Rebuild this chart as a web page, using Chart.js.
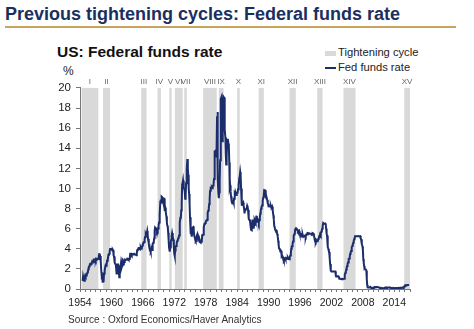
<!DOCTYPE html>
<html>
<head>
<meta charset="utf-8">
<script src="https://cdn.jsdelivr.net/npm/chart.js@4"></script>
<style>
    body { margin: 0; width: 474px; height: 329px; background: #fff; font-family: "Liberation Sans", Arial, sans-serif; position: relative; overflow: hidden; }
    #title { position: absolute; left: 5px; top: 4px; font-size: 18px; font-weight: bold; color: #1b2f5f; white-space: nowrap; }
    #rule { position: absolute; left: 5px; top: 26px; width: 451px; height: 2px; background: #c9a45c; }
    #sub { position: absolute; left: 57px; top: 43px; font-size: 15.5px; font-weight: bold; color: #111; white-space: nowrap; }
    #pct { position: absolute; left: 63px; top: 64px; font-size: 12px; color: #222; }
    .leg { position: absolute; left: 325px; font-size: 11.2px; color: #222; white-space: nowrap; }
    .leg span { display: inline-block; width: 11px; vertical-align: middle; margin-right: 2px; }
    #source { position: absolute; left: 68px; top: 314px; font-size: 10px; color: #333; white-space: nowrap; }
    #chart { position: absolute; left: 30px; top: 76px; }
</style>
</head>
<body>
<div id="title">Previous tightening cycles: Federal funds rate</div>
<div id="rule"></div>
<div id="sub">US: Federal funds rate</div>
<div class="leg" style="top:46px"><span style="height:5px;background:#d9d9d9"></span>Tightening cycle</div>
<div class="leg" style="top:61px"><span style="height:2px;background:#1b2d6b"></span>Fed funds rate</div>
<div id="pct">%</div>
<canvas id="chart" width="400" height="240"></canvas>
<div id="source">Source : Oxford Economics/Haver Analytics</div>

<script>
/* ---------- DATA ---------- */
// monthly effective fed funds rate, from Jul 1954
let startYear = 1954.5;
let fedRate = [
    0.80, 1.22, 1.06, 0.85, 0.83, 1.28,
    1.39, 1.29, 1.35, 1.43, 1.43, 1.64, 1.68, 1.96, 2.18, 2.24, 2.35, 2.48,
    2.45, 2.50, 2.50, 2.62, 2.75, 2.71, 2.75, 2.73, 2.95, 2.96, 2.88, 2.94,
    2.84, 3.00, 2.96, 3.00, 3.00, 3.00, 2.99, 3.24, 3.47, 3.50, 3.28, 2.98,
    2.72, 1.67, 1.20, 1.26, 0.63, 0.93, 0.68, 1.53, 1.76, 1.80, 2.27, 2.42,
    2.48, 2.43, 2.80, 2.96, 2.90, 3.39, 3.47, 3.50, 3.76, 3.98, 4.00, 3.99,
    3.99, 3.97, 3.84, 3.92, 3.85, 3.32, 3.23, 2.98, 2.60, 2.47, 2.44, 1.98,
    1.45, 2.54, 2.02, 1.49, 1.98, 1.73, 1.17, 2.00, 1.88, 2.26, 2.61, 2.33,
    2.15, 2.37, 2.85, 2.78, 2.36, 2.68, 2.71, 2.93, 2.90, 2.90, 2.94, 2.93,
    2.92, 3.00, 2.98, 2.90, 3.00, 2.99, 3.02, 3.49, 3.48, 3.50, 3.48, 3.38,
    3.48, 3.48, 3.43, 3.47, 3.50, 3.50, 3.42, 3.50, 3.45, 3.36, 3.52, 3.85,
    3.90, 3.98, 4.04, 4.09, 4.10, 4.04, 4.09, 4.12, 4.01, 4.08, 4.10, 4.32,
    4.42, 4.60, 4.65, 4.67, 4.90, 5.17, 5.30, 5.53, 5.40, 5.53, 5.76, 5.40,
    4.94, 5.00, 4.53, 4.05, 3.94, 3.98, 3.79, 3.90, 3.99, 3.88, 4.13, 4.51,
    4.61, 4.71, 5.05, 5.76, 6.11, 6.07, 6.02, 6.03, 5.78, 5.91, 5.82, 6.02,
    6.30, 6.61, 6.79, 7.41, 8.67, 8.90, 8.61, 9.19, 9.15, 9.00, 8.85, 8.97,
    8.98, 8.98, 7.76, 8.10, 7.95, 7.61, 7.21, 6.61, 6.29, 6.20, 5.60, 4.90,
    4.14, 3.72, 3.71, 4.16, 4.63, 4.91, 5.31, 5.56, 5.55, 5.20, 4.91, 4.14,
    3.50, 3.29, 3.83, 4.17, 4.27, 4.46, 4.55, 4.80, 4.87, 5.04, 5.06, 5.33,
    5.94, 6.58, 7.09, 7.12, 7.84, 8.49, 10.40, 10.50, 10.78, 10.01, 10.03, 9.95,
    9.65, 8.97, 9.35, 10.51, 11.31, 11.93, 12.92, 12.01, 11.34, 10.06, 9.45, 8.53,
    7.13, 6.24, 5.54, 5.49, 5.22, 5.55, 6.10, 6.14, 6.24, 5.82, 5.22, 5.20,
    4.87, 4.77, 4.84, 4.82, 5.29, 5.48, 5.31, 5.29, 5.25, 5.03, 4.95, 4.65,
    4.61, 4.68, 4.69, 4.73, 5.35, 5.39, 5.42, 5.90, 6.14, 6.47, 6.51, 6.56,
    6.70, 6.78, 6.79, 6.89, 7.36, 7.60, 7.81, 8.04, 8.45, 8.96, 9.76, 10.03,
    10.07, 10.06, 10.09, 10.01, 10.24, 10.29, 10.47, 10.94, 11.43, 13.77, 13.18, 13.78,
    13.82, 14.13, 17.19, 17.61, 10.98, 9.47, 9.03, 9.61, 10.87, 12.81, 15.85, 18.90,
    19.08, 15.93, 14.70, 15.72, 18.52, 19.10, 19.04, 17.82, 15.87, 15.08, 13.31, 12.37,
    13.22, 14.78, 14.68, 14.94, 14.45, 14.15, 12.59, 10.12, 10.31, 9.71, 9.20, 8.95,
    8.68, 8.51, 8.77, 8.80, 8.63, 8.98, 9.37, 9.56, 9.45, 9.48, 9.34, 9.47,
    9.56, 9.59, 9.91, 10.29, 10.32, 11.06, 11.23, 11.64, 11.30, 9.99, 9.43, 8.38,
    8.35, 8.50, 8.58, 8.27, 7.97, 7.53, 7.88, 7.90, 7.92, 7.99, 8.05, 8.27,
    8.14, 7.86, 7.48, 6.99, 6.85, 6.92, 6.56, 6.17, 5.89, 5.85, 6.04, 6.91,
    6.43, 6.10, 6.13, 6.37, 6.85, 6.73, 6.58, 6.73, 7.22, 7.29, 6.69, 6.77,
    6.83, 6.58, 6.58, 6.87, 7.09, 7.51, 7.75, 8.01, 8.19, 8.30, 8.35, 8.76,
    9.12, 9.36, 9.85, 9.84, 9.81, 9.53, 9.24, 8.99, 9.02, 8.84, 8.55, 8.45,
    8.23, 8.24, 8.28, 8.26, 8.18, 8.29, 8.15, 8.13, 8.20, 8.11, 7.81, 7.31,
    6.91, 6.25, 6.12, 5.91, 5.78, 5.90, 5.82, 5.66, 5.45, 5.21, 4.81, 4.43,
    4.03, 4.06, 3.98, 3.73, 3.82, 3.76, 3.25, 3.30, 3.22, 3.10, 3.09, 2.92,
    3.02, 3.03, 3.07, 2.96, 3.00, 3.04, 3.06, 3.03, 3.09, 2.99, 3.02, 2.96,
    3.05, 3.25, 3.34, 3.56, 4.01, 4.25, 4.26, 4.47, 4.73, 4.76, 5.29, 5.45,
    5.53, 5.92, 5.98, 6.05, 6.01, 6.00, 5.85, 5.74, 5.80, 5.76, 5.80, 5.60,
    5.56, 5.22, 5.31, 5.22, 5.24, 5.27, 5.40, 5.22, 5.30, 5.24, 5.31, 5.29,
    5.25, 5.19, 5.39, 5.51, 5.50, 5.56, 5.52, 5.54, 5.54, 5.50, 5.52, 5.50,
    5.56, 5.51, 5.49, 5.45, 5.49, 5.56, 5.54, 5.55, 5.51, 5.07, 4.83, 4.68,
    4.63, 4.76, 4.81, 4.74, 4.74, 4.76, 4.99, 5.07, 5.22, 5.20, 5.42, 5.30,
    5.45, 5.73, 5.85, 6.02, 6.27, 6.53, 6.54, 6.50, 6.52, 6.51, 6.51, 6.40,
    5.98, 5.49, 5.31, 4.80, 4.21, 3.97, 3.77, 3.65, 3.07, 2.49, 2.09, 1.82,
    1.73, 1.74, 1.73, 1.75, 1.75, 1.75, 1.73, 1.74, 1.75, 1.75, 1.34, 1.24,
    1.24, 1.26, 1.25, 1.26, 1.26, 1.22, 1.01, 1.03, 1.01, 1.01, 1.00, 0.98,
    1.00, 1.01, 1.00, 1.00, 1.00, 1.03, 1.26, 1.43, 1.61, 1.76, 1.93, 2.16,
    2.28, 2.50, 2.63, 2.79, 3.00, 3.04, 3.26, 3.50, 3.62, 3.78, 4.00, 4.16,
    4.29, 4.49, 4.59, 4.79, 4.94, 4.99, 5.24, 5.25, 5.25, 5.25, 5.25, 5.24,
    5.25, 5.26, 5.26, 5.25, 5.25, 5.25, 5.26, 5.02, 4.94, 4.76, 4.49, 4.24,
    3.94, 2.98, 2.61, 2.28, 1.98, 2.00, 2.01, 2.00, 1.81, 0.97, 0.39, 0.16,
    0.15, 0.22, 0.18, 0.15, 0.18, 0.21, 0.16, 0.16, 0.15, 0.12, 0.12, 0.12,
    0.11, 0.13, 0.16, 0.20, 0.20, 0.18, 0.18, 0.19, 0.19, 0.19, 0.19, 0.18,
    0.17, 0.16, 0.14, 0.10, 0.09, 0.09, 0.07, 0.10, 0.08, 0.07, 0.08, 0.07,
    0.08, 0.10, 0.13, 0.14, 0.16, 0.16, 0.16, 0.13, 0.14, 0.16, 0.16, 0.16,
    0.14, 0.15, 0.14, 0.15, 0.11, 0.09, 0.09, 0.08, 0.08, 0.09, 0.08, 0.09,
    0.07, 0.07, 0.08, 0.09, 0.09, 0.10, 0.09, 0.09, 0.09, 0.09, 0.09, 0.12,
    0.11, 0.11, 0.11, 0.12, 0.12, 0.13, 0.13, 0.14, 0.14, 0.12, 0.12, 0.24,
    0.34, 0.38, 0.36, 0.37, 0.37, 0.38, 0.39, 0.40, 0.40, 0.40, 0.41
];

// tightening cycles (decimal years)
let cycleLabels = ["I", "II", "III", "IV", "V", "VI", "VII", "VIII", "IX", "X", "XI", "XII", "XIII", "XIV", "XV"];
let cycleStart = [1954.3, 1958.4, 1965.7, 1968.8, 1971.05, 1972.1, 1973.9, 1977.5, 1980.5, 1984.0, 1988.1, 1994.0, 1999.3, 2004.3, 2015.9];
let cycleEnd   = [1957.5, 1959.75, 1966.7, 1969.45, 1971.5, 1973.6, 1974.4, 1980.1, 1981.4, 1984.5, 1989.1, 1995.2, 2000.3, 2006.6, 2017.0];

let yearLabels = [1954, 1960, 1966, 1972, 1978, 1984, 1990, 1996, 2002, 2008, 2014];

/* ---------- SHADED CYCLES PLUGIN ---------- */
const cyclesPlugin = {
    id: "cycles",
    beforeDatasetsDraw(chart) {
        let ctx = chart.ctx;
        let xs = chart.scales.x;
        let area = chart.chartArea;
        ctx.save();
        ctx.fillStyle = "#d9d9d9";
        cycleStart.forEach((s, i) => {
            let x0 = xs.getPixelForValue(s);
            let x1 = xs.getPixelForValue(cycleEnd[i]);
            ctx.fillRect(x0, area.top, x1 - x0, area.bottom - area.top);
        });
        ctx.fillStyle = "#666";
        ctx.font = "8px 'Liberation Sans', Arial, sans-serif";
        ctx.textAlign = "center";
        ctx.textBaseline = "bottom";
        cycleLabels.forEach((lab, i) => {
            let xm = xs.getPixelForValue((cycleStart[i] + cycleEnd[i]) / 2);
            ctx.fillText(lab, xm, area.top - 2);
        });
        ctx.restore();
    }
};

/* ---------- CHART ---------- */
let points = fedRate.map((v, i) => ({ x: startYear + i / 12, y: v }));

new Chart(document.getElementById("chart"), {
    type: "line",
    data: {
        datasets: [{
            data: points,
            borderColor: "#1b2d6b",
            borderWidth: 2,
            pointRadius: 0,
            tension: 0,
            fill: false
        }]
    },
    options: {
        responsive: false,
        animation: false,
        layout: { padding: { top: 11, right: 20, left: 0, bottom: 0 } },
        plugins: { legend: { display: false }, tooltip: { enabled: false } },
        scales: {
            x: {
                type: "linear",
                min: 1954,
                max: 2017,
                afterFit: (s) => { s.height = 27; },
                border: { color: "#777", width: 1 },
                grid: { drawOnChartArea: false, tickLength: 3, color: "#777" },
                ticks: {
                    stepSize: 1,
                    autoSkip: false,
                    maxRotation: 0,
                    padding: 5,
                    color: "#222",
                    font: { size: 10.5, family: "'Liberation Sans', Arial" },
                    callback: (v) => yearLabels.includes(v) ? String(v) : ""
                }
            },
            y: {
                min: 0,
                max: 20,
                afterFit: (s) => { s.width = 50; },
                border: { color: "#777", width: 1 },
                grid: { drawOnChartArea: false, tickLength: 4, color: "#777" },
                ticks: {
                    stepSize: 2,
                    padding: 5,
                    color: "#222",
                    font: { size: 11.5, family: "'Liberation Sans', Arial" }
                }
            }
        }
    },
    plugins: [cyclesPlugin]
});
</script>
</body>
</html>
